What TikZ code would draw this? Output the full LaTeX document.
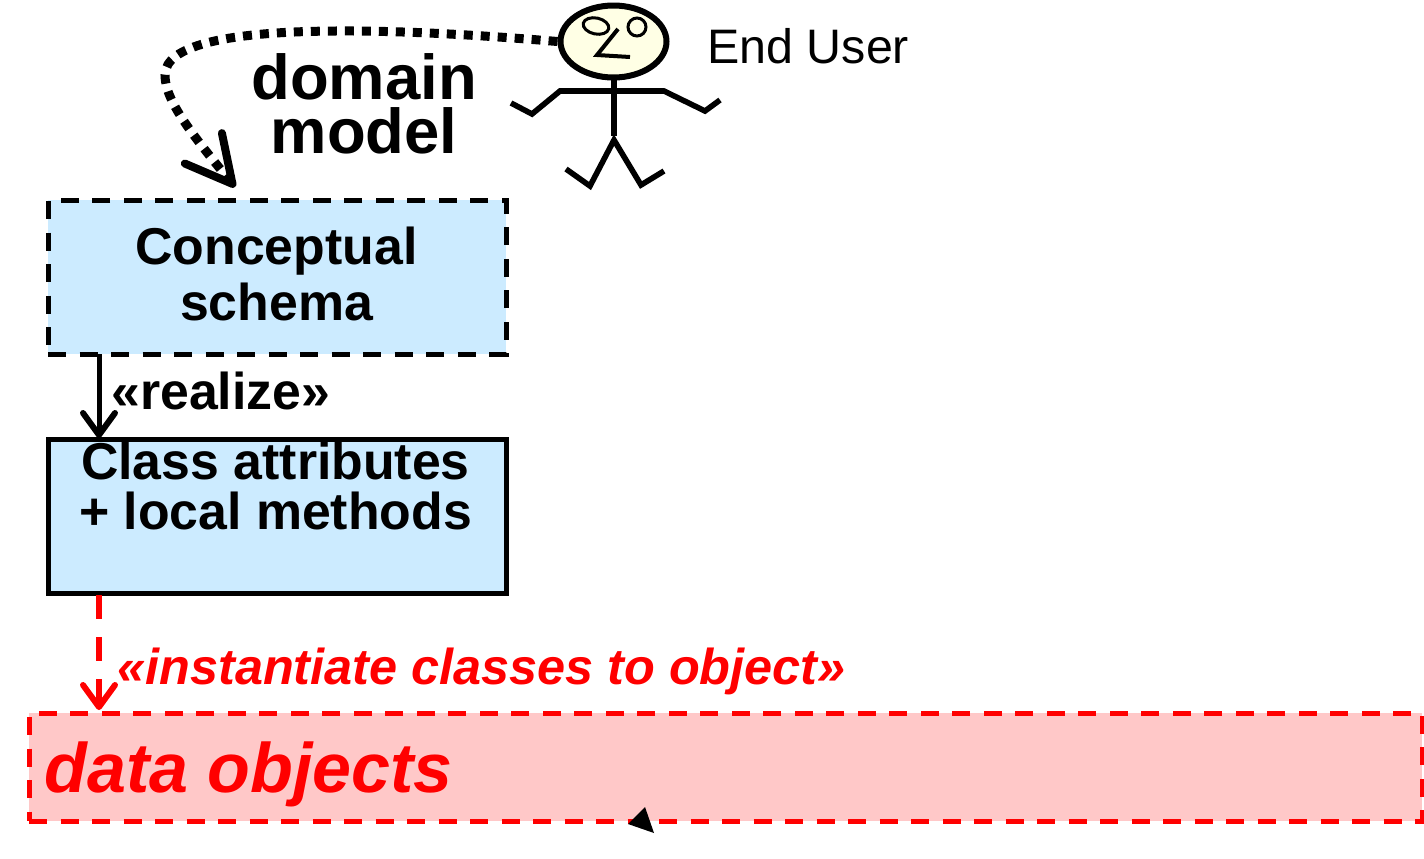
\documentclass[tikz,border=0pt]{standalone}
\usepackage{fontspec}
\setmainfont{Liberation Sans}
\usetikzlibrary{arrows.meta,shapes.geometric}
\definecolor{boxblue}{HTML}{CCEBFF}
\definecolor{boxpink}{HTML}{FFC8C8}
\definecolor{headyellow}{HTML}{FFFFE5}
\def\txt#1#2{\fontsize{#1}{#2}\selectfont}
\tikzset{
	x=0.5pt, y=-0.5pt,
	stick/.style={line width=2.8pt, line join=miter},
	classbox/.style={rectangle, draw=black, fill=boxblue, line width=2.5pt, outer sep=0pt, minimum width=229pt, minimum height=77pt, anchor=north west, inner sep=0pt},
	redtext/.style={text=red, inner sep=0pt},
}

\begin{document}
\begin{tikzpicture}
			%%%%% START %%%%%
			\useasboundingbox (0, 0) rectangle (1424, 858);
			
			% boxes
			\node[classbox, dash pattern=on 9pt off 6.75pt] (concept) at (48, 200) {};
			\node[classbox] (class) at (48, 439) {};
			\node[rectangle, draw=red, fill=boxpink, line width=2.5pt, outer sep=0pt, dash pattern=on 9pt off 6.75pt, minimum width=696.5pt, minimum height=54pt, anchor=north west, inner sep=0pt] (data) at (29, 713) {};
			
			% texts
			\node[anchor=base, align=center, font=\bfseries\txt{31.7}{27}] (domainlbl) at (364, 153) {domain\\model};
			\node[anchor=base, align=center, font=\bfseries\txt{25.9}{28}] (conceptlbl) at (276.5, 320) {Conceptual\\schema};
			\node[anchor=base, align=center, font=\bfseries\txt{25.9}{25}] (classlbl) at (275.5, 529) {Class attributes\\+ local methods};
			\node[anchor=base west, inner sep=0pt, font=\bfseries\txt{25.9}{25}] (realizelbl) at (111, 409) {«realize»};
			\node[anchor=base west, redtext, font=\bfseries\itshape\txt{25.2}{25}] (instlbl) at (117, 684) {«instantiate classes to object»};
			\node[anchor=base west, redtext, font=\bfseries\itshape\txt{35}{35}] (datalbl) at (44, 792) {data objects};
			\node[anchor=base west, inner sep=0pt, font=\txt{24.2}{25}] (userlbl) at (707, 63) {End User};
			
			% end user
			\node[ellipse, draw=black, fill=headyellow, line width=3pt, minimum width=53pt, minimum height=36pt, inner sep=0pt] (head) at (613.5, 41.5) {};
			\draw[line width=1.5pt, rotate around={-12:(596, 26)}] (596, 26) ellipse (13 and 8);
			\draw[line width=1.5pt] (637, 27) circle (9);
			\draw[line width=2pt] (618, 29) -- (597, 55) -- (630, 57);
			\draw[stick] (614, 78) -- (614, 136);
			\draw[stick] (511, 103) -- (532, 114) -- (560, 91) -- (664, 91) -- (705, 111) -- (720, 100);
			\draw[stick] (566, 169) -- (590, 186) -- (614, 140) -- (641, 185) -- (664, 171);
			
			% connectors
			\coordinate (dottip) at (235, 187);
			\coordinate (realizetop) at (99, 354);
			\coordinate (realizeend) at (99, 438);
			\coordinate (insttop) at (99, 595);
			\coordinate (instend) at (99, 710);
			
			\draw[line width=4.5pt, dash pattern=on 4.5pt off 4pt, -{Straight Barb[length=23pt, width=24pt, line width=4pt, round]}] (head.west) .. controls (420, 30) and (165, 15) .. (165, 75) .. controls (165, 100) and (190, 132) .. (dottip);
			\draw[line width=2.5pt, -{Straight Barb[length=11pt, width=16pt, line width=3pt, round]}] (realizetop) -- (realizeend);
			\draw[red, line width=3pt, dash pattern=on 12pt off 9pt, -{Straight Barb[length=11pt, width=16pt, line width=3pt, round]}] (insttop) -- (instend);
			
			\fill (645, 807) -- (628, 824) -- (654, 833) -- cycle;
			
			%%%%% END %%%%%
		\end{tikzpicture}
\end{document}
